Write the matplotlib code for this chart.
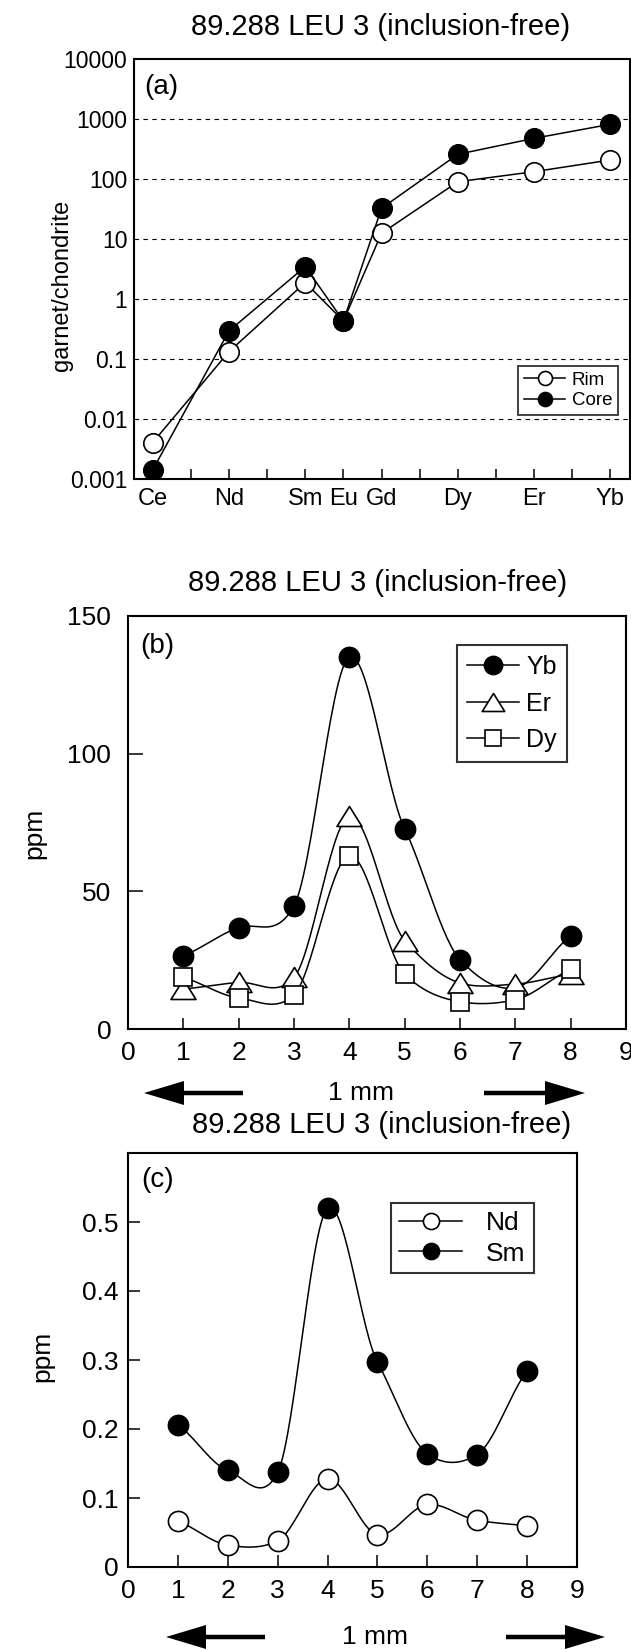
import numpy as np
import matplotlib
matplotlib.use("Agg")
import matplotlib.pyplot as plt
from matplotlib.lines import Line2D
from matplotlib.patches import FancyArrow
from matplotlib.path import Path
from matplotlib.ticker import FixedLocator, NullLocator, MultipleLocator

plt.rcParams['font.family'] = ['Liberation Sans', 'DejaVu Sans']

# ---------------- data ----------------
title_text = "89.288 LEU 3 (inclusion-free)"

# (a) chondrite-normalised REE pattern
ree_labels = ['Ce', 'Nd', 'Sm', 'Eu', 'Gd', 'Dy', 'Er', 'Yb']
ree_z = [58, 60, 62, 63, 64, 66, 68, 70]
rim_norm = [0.0041, 0.134, 1.9, 0.435, 12.6, 91, 134, 210]
core_norm = [0.00143, 0.297, 3.5, 0.435, 32.9, 261, 482, 826]
ytick_vals_a = [0.001, 0.01, 0.1, 1, 10, 100, 1000, 10000]
ytick_labels_a = ['0.001', '0.01', '0.1', '1', '10', '100', '1000', '10000']

# (b) HREE profiles (ppm)
pos = [1, 2, 3, 4, 5, 6, 7, 8]
yb_ppm = [26.7, 36.9, 44.8, 135.0, 72.7, 25.3, 15.0, 33.8]
yb_visible = [0, 1, 2, 3, 4, 5, 7]   # point 7 is hidden behind the Er symbol
er_ppm = [14.6, 17.0, 18.8, 77.3, 32.2, 16.8, 16.4, 20.0]
dy_ppm = [18.8, 11.4, 12.5, 63.0, 20.0, 10.0, 10.7, 21.7]

# (c) LREE profiles (ppm)
nd_ppm = [0.0665, 0.0317, 0.0379, 0.128, 0.047, 0.0906, 0.0676, 0.060]
sm_ppm = [0.206, 0.140, 0.137, 0.520, 0.297, 0.164, 0.163, 0.284]

# ---------------- helpers ----------------
W, H = 631, 1650
fig = plt.figure(figsize=(W / 100, H / 100), dpi=100)


def add_axes_px(l, t, r, b):
    return fig.add_axes([l / W, 1 - b / H, (r - l) / W, (b - t) / H])


def fx(px):
    return px / W


def fy(py):
    return 1 - py / H


def smooth(x, y, n=30, k=0.75):
    x = np.asarray(x, float)
    y = np.asarray(y, float)
    m = np.gradient(y, x) * k
    xs, ys = [], []
    for i in range(len(x) - 1):
        h = x[i + 1] - x[i]
        t = np.linspace(0, 1, n, endpoint=(i == len(x) - 2))
        h00 = 2 * t**3 - 3 * t**2 + 1
        h10 = t**3 - 2 * t**2 + t
        h01 = -2 * t**3 + 3 * t**2
        h11 = t**3 - t**2
        xs.append(x[i] + t * h)
        ys.append(h00 * y[i] + h10 * h * m[i] + h01 * y[i + 1] + h11 * h * m[i + 1])
    return np.concatenate(xs), np.concatenate(ys)


tri_marker = Path([(0, 0.8), (-1, -0.8), (1, -0.8), (0, 0.8)],
                  [Path.MOVETO, Path.LINETO, Path.LINETO, Path.CLOSEPOLY])

LW = 1.1
SPINE = 1.5


def style_spines(ax):
    for s in ax.spines.values():
        s.set_linewidth(SPINE)
        s.set_color('black')


def plot_series(ax, x, y, marker, filled, ms, label, smooth_line=True, z=2,
                markevery=None):
    if smooth_line:
        xs, ys = smooth(x, y)
    else:
        xs, ys = x, y
    ax.plot(xs, ys, color='black', lw=LW, zorder=z)
    ax.plot(x, y, linestyle='none', marker=marker, ms=ms, markevery=markevery,
            mfc='black' if filled else 'white', mec='black', mew=1.2, zorder=z + 0.5)
    return Line2D([], [], color='black', lw=LW, marker=marker, ms=ms,
                  mfc='black' if filled else 'white', mec='black', mew=1.2, label=label)


def arrows(y_px, lt, lh, rt, rh, tx, ty):
    for tail, tip in ((lt, lh), (rt, rh)):
        a = FancyArrow(tail / 100, (H - y_px) / 100, (tip - tail) / 100, 0,
                       width=4.5 / 100, head_width=24 / 100, head_length=40 / 100,
                       length_includes_head=True, color='black', lw=0,
                       transform=fig.dpi_scale_trans)
        fig.add_artist(a)
    fig.text(fx(tx), fy(ty), '1 mm', ha='center', va='center', fontsize=19)


# ---------------- panel (a) ----------------
axa = add_axes_px(133.6, 59.3, 629.5, 479.3)
axa.set_yscale('log')
axa.set_ylim(0.001, 10000)
axa.set_xlim(ree_z[0] - 0.5, ree_z[-1] + 0.5)
for v in ytick_vals_a[1:-1]:
    axa.axhline(v, color='black', lw=0.8, ls=(0, (4, 4)), zorder=1)
ha_rim = plot_series(axa, ree_z, rim_norm, 'o', False, 14, 'Rim', smooth_line=False)
ha_core = plot_series(axa, ree_z, core_norm, 'o', True, 14, 'Core', smooth_line=False, z=3)
axa.yaxis.set_major_locator(FixedLocator(ytick_vals_a))
axa.set_yticklabels(ytick_labels_a)
axa.yaxis.set_minor_locator(NullLocator())
axa.set_xticks(ree_z)
axa.set_xticklabels(ree_labels)
axa.xaxis.set_minor_locator(MultipleLocator(1))
axa.tick_params(axis='y', which='both', length=0, pad=4.5, labelsize=16.5)
axa.tick_params(axis='x', which='both', direction='in', length=7, width=1.1,
                pad=6, labelsize=17)
axa.set_ylabel('garnet/chondrite', fontsize=17)
axa.yaxis.set_label_coords(fx(57) - fx(133.6), (479.3 - 285) / 420.0)
style_spines(axa)
lega = axa.legend(handles=[ha_rim, ha_core], loc='lower right',
                  bbox_to_anchor=((618 - 133.6) / 495.9, (479.3 - 415) / 420.0),
                  borderaxespad=0, frameon=True, fancybox=False, fontsize=13.5,
                  handlelength=2.2, handletextpad=0.35, labelspacing=0.2,
                  borderpad=0.3, markerscale=0.72)
lega.get_frame().set_edgecolor('black')
lega.get_frame().set_linewidth(1.3)
fig.text(fx(381), fy(27), title_text, ha='center', va='center', fontsize=21)
fig.text(fx(161), fy(87), '(a)', ha='center', va='center', fontsize=20)

# ---------------- panel (b) ----------------
axb = add_axes_px(128, 615.7, 626, 1029.3)
axb.set_xlim(0, 9)
axb.set_ylim(0, 150)
hb_yb = plot_series(axb, pos, yb_ppm, 'o', True, 14.5, 'Yb', z=2, markevery=yb_visible)
hb_er = plot_series(axb, pos, er_ppm, tri_marker, False, 18, 'Er', z=4)
hb_dy = plot_series(axb, pos, dy_ppm, 's', False, 13.5, 'Dy', z=6)
axb.set_xticks(range(0, 10))
axb.set_yticks([0, 50, 100, 150])
axb.tick_params(axis='x', direction='in', length=8, width=1.1, pad=8.5, labelsize=19)
axb.tick_params(axis='y', direction='in', length=10.5, width=1.1, pad=12, labelsize=19)
axb.set_ylabel('ppm', fontsize=19)
axb.yaxis.set_label_coords(fx(25) - fx(128), (1029.3 - 833) / 413.6)
style_spines(axb)
legb = axb.legend(handles=[hb_yb, hb_er, hb_dy], loc='upper right',
                  bbox_to_anchor=((567 - 128) / 498.0, (1029.3 - 645) / 413.6),
                  borderaxespad=0, frameon=True, fancybox=False, fontsize=18,
                  handlelength=2.1, handletextpad=0.3, labelspacing=0.5,
                  borderpad=0.4, markerscale=0.9)
legb.get_frame().set_edgecolor('black')
legb.get_frame().set_linewidth(1.5)
fig.text(fx(377.5), fy(583), title_text, ha='center', va='center', fontsize=21)
fig.text(fx(157), fy(646), '(b)', ha='center', va='center', fontsize=20)
arrows(1093, 243, 144, 484, 585, 361, 1093)

# ---------------- panel (c) ----------------
axc = add_axes_px(128, 1153, 577, 1567)
axc.set_xlim(0, 9)
axc.set_ylim(0, 0.6)
hc_nd = plot_series(axc, pos, nd_ppm, 'o', False, 14.5, 'Nd', z=2)
hc_sm = plot_series(axc, pos, sm_ppm, 'o', True, 14.5, 'Sm', z=4)
axc.set_xticks(range(0, 10))
axc.set_yticks([0, 0.1, 0.2, 0.3, 0.4, 0.5])
axc.set_yticklabels(['0', '0.1', '0.2', '0.3', '0.4', '0.5'])
axc.tick_params(axis='x', direction='in', length=9, width=1.1, pad=8.5, labelsize=19)
axc.tick_params(axis='y', direction='in', length=8.5, width=1.1, pad=7, labelsize=19)
axc.set_ylabel('ppm', fontsize=19)
axc.yaxis.set_label_coords(fx(24) - fx(128), (1567 - 1356) / 414.0)
style_spines(axc)
legc = axc.legend(handles=[hc_nd, hc_sm], loc='upper right',
                  bbox_to_anchor=((533.6 - 128) / 449.0, (1567 - 1203) / 414.0),
                  borderaxespad=0, frameon=True, fancybox=False, fontsize=19,
                  handlelength=2.4, handletextpad=0.9, labelspacing=0.25,
                  borderpad=0.3, markerscale=0.8)
legc.get_frame().set_edgecolor('black')
legc.get_frame().set_linewidth(1.5)
fig.text(fx(382), fy(1125), title_text, ha='center', va='center', fontsize=21)
fig.text(fx(158), fy(1180), '(c)', ha='center', va='center', fontsize=20)
arrows(1637, 265, 166, 506, 605, 375.5, 1637)

fig.savefig('out.png', dpi=100, facecolor='white')
